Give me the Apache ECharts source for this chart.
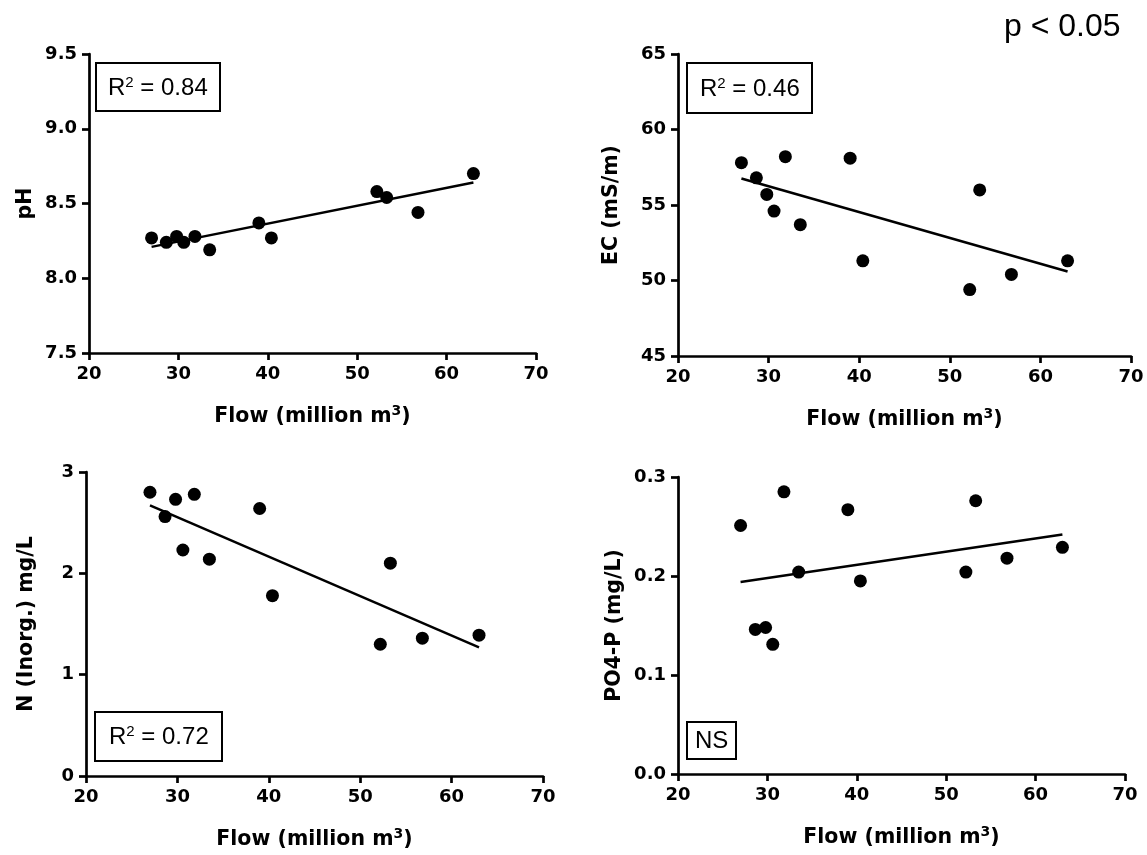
<!DOCTYPE html>
<html>
<head>
<meta charset="utf-8">
<style>
  html, body { margin: 0; padding: 0; background: #ffffff; }
  #chart { width: 1147px; height: 855px; }
</style>
<script src="https://cdn.jsdelivr.net/npm/echarts@6/dist/echarts.min.js"></script>
</head>
<body>
<div id="chart"></div>
<script>
// ---- Data ----
const flow = [27.0, 28.65, 29.8, 30.6, 31.85, 33.5, 39.0, 40.4, 52.2, 53.3, 56.8, 63.0];
const ph   = [8.27, 8.24, 8.28, 8.24, 8.28, 8.19, 8.37, 8.27, 8.58, 8.54, 8.44, 8.70];
const ec   = [57.8, 56.8, 55.7, 54.6, 58.2, 53.7, 58.1, 51.3, 49.4, 56.0, 50.4, 51.3];
const nInorg = [2.80, 2.56, 2.73, 2.23, 2.78, 2.14, 2.64, 1.78, 1.30, 2.10, 1.36, 1.39];
const po4p = [0.251, 0.146, 0.148, 0.131, 0.285, 0.204, 0.267, 0.195, 0.204, 0.276, 0.218, 0.229];

// regression line end points (as drawn in the figure)
const fitX   = [27, 63];
const phFit  = [8.21, 8.64];
const ecFit  = [56.75, 50.6];
const nFit   = [2.67, 1.27];
const poFit  = [0.194, 0.242];

// axis ticks
const xTicks   = [20, 30, 40, 50, 60, 70];
const phTicks  = [7.5, 8.0, 8.5, 9.0, 9.5];
const ecTicks  = [45, 50, 55, 60, 65];
const nTicks   = [0, 1, 2, 3];
const poTicks  = [0.0, 0.1, 0.2, 0.3];

// labels
const yNames = ['pH', 'EC (mS/m)', 'N (Inorg.) mg/L', 'PO4-P (mg/L)'];
const xName = '{b|Flow (million m}{s|3}{b|)}';
const statLabels = ['{r|R}{s|2}{r| = 0.84}', '{r|R}{s|2}{r| = 0.46}', '{r|R}{s|2}{r| = 0.72}', '{r|NS}'];
const pLabel = 'p < 0.05';

// ---- Chart ----
const BOLD = '"DejaVu Sans", sans-serif';
const REG = '"Liberation Sans", Arial, sans-serif';
const AX = 2.7;

function zip(xs, ys) { return xs.map((x, i) => [x, ys[i]]); }

const grids = [
  { left: 89,  top: 54,  width: 447, height: 299 },
  { left: 678, top: 54,  width: 453, height: 302 },
  { left: 86,  top: 472, width: 457, height: 304 },
  { left: 678, top: 477, width: 447, height: 297 }
];
const yTickSets = [phTicks, ecTicks, nTicks, poTicks];
const yDecimals = [1, 0, 0, 1];
const yNameGaps = [53, 56, 49, 53];
const values = [ph, ec, nInorg, po4p];
const fits = [phFit, ecFit, nFit, poFit];

const axisLine = { show: true, lineStyle: { color: '#000', width: AX } };
const axisTick = { show: true, inside: false, length: 7, lineStyle: { color: '#000', width: AX } };

const xAxis = grids.map((g, i) => ({
  type: 'value', gridIndex: i,
  min: xTicks[0], max: xTicks[xTicks.length - 1], interval: xTicks[1] - xTicks[0],
  name: xName, nameLocation: 'middle', nameGap: 51,
  nameTextStyle: {
    rich: {
      b: { fontFamily: BOLD, fontWeight: 'bold', fontSize: 20.5, color: '#000', lineHeight: 26 },
      s: { fontFamily: BOLD, fontWeight: 'bold', fontSize: 14, color: '#000', verticalAlign: 'top', lineHeight: 18 }
    }
  },
  axisLine, axisTick, splitLine: { show: false },
  axisLabel: { fontFamily: BOLD, fontWeight: 'bold', fontSize: 18, color: '#000', margin: 12 }
}));

const yAxis = grids.map((g, i) => {
  const t = yTickSets[i];
  return {
    type: 'value', gridIndex: i,
    min: t[0], max: t[t.length - 1], interval: +(t[1] - t[0]).toFixed(4),
    name: yNames[i], nameLocation: 'middle', nameGap: yNameGaps[i],
    nameTextStyle: { fontFamily: BOLD, fontWeight: 'bold', fontSize: 20.5, color: '#000' },
    axisLine, axisTick, splitLine: { show: false },
    axisLabel: { fontFamily: BOLD, fontWeight: 'bold', fontSize: 18, color: '#000', margin: 12,
      formatter: v => Number(v).toFixed(yDecimals[i]) }
  };
});

const series = [];
grids.forEach((g, i) => {
  series.push({
    type: 'scatter', xAxisIndex: i, yAxisIndex: i,
    data: zip(flow, values[i]), symbol: 'circle', symbolSize: 13,
    itemStyle: { color: '#000', opacity: 1 }, silent: true, z: 3
  });
  series.push({
    type: 'line', xAxisIndex: i, yAxisIndex: i,
    data: zip(fitX, fits[i]), symbol: 'none',
    lineStyle: { color: '#000', width: 2.5 }, silent: true, z: 2
  });
});

const boxRich = {
  r: { fontFamily: REG, fontWeight: 'normal', fontSize: 24, color: '#000', lineHeight: 26 },
  s: { fontFamily: REG, fontWeight: 'normal', fontSize: 15, color: '#000', verticalAlign: 'top', lineHeight: 14 }
};
const boxStyle = (left, top, pad) => ({
  left, top, padding: pad, borderColor: '#000', borderWidth: 2, backgroundColor: '#fff',
  textStyle: { fontWeight: 'normal', fontFamily: REG, rich: boxRich }
});

const title = [
  Object.assign({ text: statLabels[0] }, boxStyle(96, 63, [12, 13, 11, 12])),
  Object.assign({ text: statLabels[1] }, boxStyle(687, 63, [13, 13, 12, 13])),
  Object.assign({ text: statLabels[2] }, boxStyle(95, 712, [12, 14, 12, 14])),
  Object.assign({ text: statLabels[3] }, boxStyle(687, 721, [7, 8, 6, 8])),
  { text: pLabel, left: 1004, top: 11, padding: 0,
    textStyle: { fontFamily: REG, fontWeight: 'normal', fontSize: 32, color: '#000' } }
];

const chart = echarts.init(document.getElementById('chart'), null, { renderer: 'canvas' });
chart.setOption({
  animation: false,
  backgroundColor: '#fff',
  title, grid: grids, xAxis, yAxis, series
});
</script>
</body>
</html>
